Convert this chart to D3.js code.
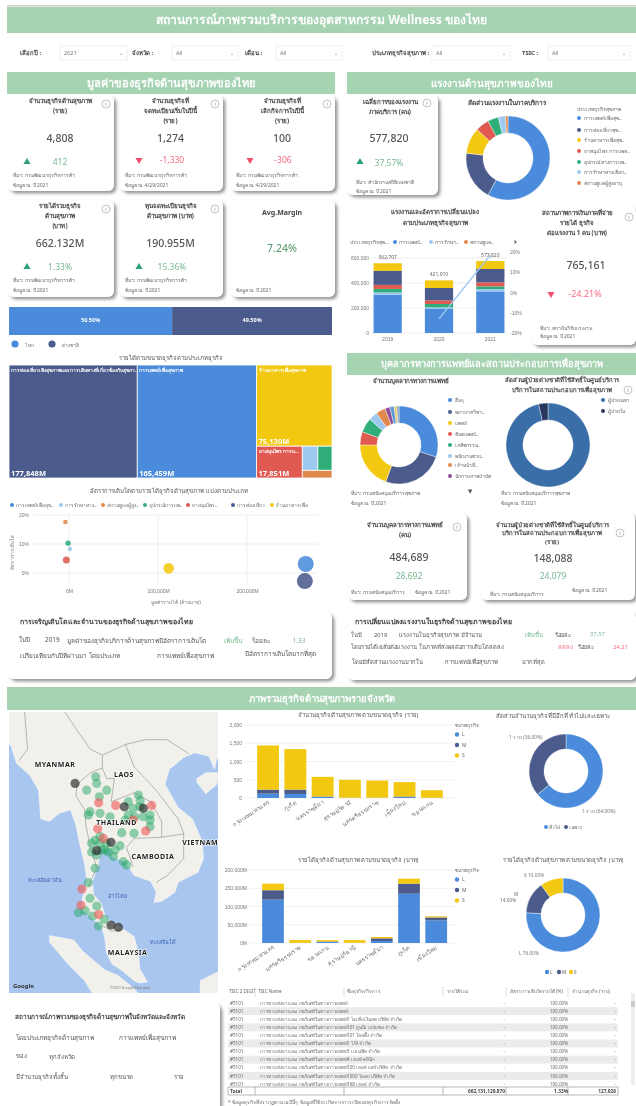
<!DOCTYPE html>
<html>
<head>
<meta charset="utf-8">
<script src="https://cdn.jsdelivr.net/npm/d3@7"></script>
<style>
html, body { margin: 0; padding: 0; background: #fff; }
svg { display: block; filter: blur(0.7px); font-family: "Noto Sans", "Open Sans", "DejaVu Sans", sans-serif; }
</style>
</head>
<body>
<svg id="chart" width="636" height="1106"></svg>
<script>
var w = 636, h = 1106;

// colours
var c_blue = '#4a8cdb', c_dark = '#4b5b8c', c_yellow = '#f2c811', c_red = '#e05a52', c_green = '#2fae7a',
    c_light = '#9dc9f0', c_orange = '#e08a50', c_purple = '#8e4b9c', c_head = '#a6d3b2', c_text = '#555';

// KPI cards, left block
var kpiTitles = [["จำนวนธุรกิจด้านสุขภาพ","(ราย)"],["จำนวนธุรกิจที่","จดทะเบียนเริ่มในปีนี้","(ราย)"],["จำนวนธุรกิจที่","เลิกกิจการในปีนี้","(ราย)"],
                 ["รายได้รวมธุรกิจ","ด้านสุขภาพ","(บาท)"],["ทุนจดทะเบียนธุรกิจ","ด้านสุขภาพ (บาท)"],["Avg.Margin"]];
var kpiValues = ["4,808","1,274","100","662.132M","190.955M","7.24%"];
var kpiDeltas = ["412","-1,330","-306","1.33%","15.36%",""];
var kpiSource = "ที่มา: กรมพัฒนาธุรกิจการค้า";
var kpiYears = ["ข้อมูล ณ ปี  2021","ข้อมูล ณ  4/29/2021","ข้อมูล ณ  4/29/2021","ข้อมูล ณ ปี  2021","ข้อมูล ณ ปี  2021","ข้อมูล ณ ปี  2021"];

// workforce donut and stacked bars
var bizShort = ["การแพทย์เพื่อสุข..","การท่องเที่ยวสุข..","ร้านอาหารเพื่อสุข..","ยาสมุนไพร การแพท..","อุปกรณ์ทางการแพ..","การรักษาทางเลือก..","สถานดูแลผู้สูงอายุ"];
var laborShare = [58, 19, 10, 5.3, 4.2, 2.7, 1];
var laborYears = ["2019","2020","2021"];
var laborBlue   = [306000, 192000, 333000];
var laborLight  = [18000, 13000, 19000];
var laborGreen  = [29000, 27000, 21000];
var laborRed    = [32000, 29000, 32000];
var laborDark   = [112000, 99000, 107000];
var laborYellow = [61000, 61000, 64000];
var laborTotals = ["562,707","421,910","577,820"];
var laborGrowth = [null, -13, 18.5];
var laborTicks = [0, 200000, 400000, 600000];
var growthTicks = [-20, -10, 0, 10, 20];

// nationality bar
var nationNames = ["ไทย","ต่างชาติ"];
var nationShare = [50.5, 49.5];

// treemap (ล้านบาท)
var treeRevenue = {dark: 177848, blue: 165459, yellow: 75130, red: 17851, light: 4600, green: 4200, orange: 2800};
var treeNames = {dark: "การท่องเที่ยวเชิงสุขภาพและการเดินทางที่เกี่ยวข้องกับสุขภา...", blue: "การแพทย์เพื่อสุขภาพ", yellow: "ร้านอาหารเพื่อสุขภาพ", red: "ยาสมุนไพร การแ..."};

// bubble chart
var bubbleNames = ["การแพทย์เพื่อสุข..","การรักษาทาง..","สถานดูแลผู้สูง..","อุปกรณ์การแพ..","ยาสมุนไพร..","การท่องเที่ยว","ร้านอาหารเพื่อ"];
var bubbleColors = [c_blue, c_light, c_orange, c_green, c_red, c_dark, c_yellow];
var bubbleRevenue = [266000, 1000, -4000, -1000, -3000, 265000, 112000];
var bubbleGrowth = [3.1, 8.3, 17.6, 10.3, 4.5, -2.8, 1.6];
var bubbleSize = [64, 5.3, 5.3, 7.3, 12.3, 64, 28];
var bubbleXTicks = [0, 100000, 200000];
var bubbleYTicks = [0, 10, 20];

// medical staff donuts
var staffNames = ["อื่นๆ","พยาบาลวิชา..","แพทย์","ทันตแพทย์..","เภสัชกรรม..","พนักงานช่วย..","เจ้าหน้าที่..","นักกายภาพบำบัด"];
var staffShare = [30, 25.5, 19.5, 5.5, 6, 3.7, 4, 2, 1.8, 1.1, 0.9];
var patientNames = ["ผู้ป่วยนอก","ผู้ป่วยใน"];
var patientShare = [96.4, 3.6];

// province charts
var sizeNames = ["L","M","S"];
var countProvinces = ["กรุงเทพมหานคร","ภูเก็ต","นครราชสีมา","สุราษฎร์ธานี","นครศรีธรรมราช","เชียงใหม่","ขอนแก่น"];
var countL = [120, 110, 30, 3, 3, 25, 3];
var countM = [110, 120, 10, 5, 5, 15, 3];
var countS = [1210, 1110, 540, 490, 470, 395, 207];
var countTicks = [0, 500, 1000, 1500, 2000];
var incomeProvinces = ["กรุงเทพมหานคร","นครศรีธรรมราช","ขอนแก่น","สุราษฎร์ธานี","นครราชสีมา","ภูเก็ต","เชียงใหม่"];
var incomeL = [119000, 300, 3000, 300, 5500, 135000, 62000];
var incomeM = [25600, 200, 1000, 200, 7300, 27500, 8000];
var incomeS = [18000, 7500, 4000, 7500, 3600, 13700, 3000];
var incomeTicks = [0, 50000, 100000, 150000, 200000];
var typeShare = [64, 36];
var typeNames = ["ทั่วไป","เฉพาะ"];
var typeLabels = ["1 ราย (64.00%)","1 ราย (36.00%)"];
var sizeShare = [76, 14, 10];
var sizeLabels = ["L 76.00%","M\n14.00%","S 10.00%"];

// map bubbles, lon / lat
var mapGreenLon = [99.5,98.68,99.59,100.5,99.83,98.98,99.89,100.8,98.83,102.47,103.38,102.47,103.53,104.44,104.44,101.86,102.98,101.71,99.89,99.13,100.35,101.1,102.01,102.32,99.44,98.83,98.98,99.59,98.53,97.92,99.22,100.28,99.74,
                   99.44,99.89,100.5,100.04,100.65,101.26,99.59,99.13,103.03,103.8,104.44,102.92,102.17,103.53];
var mapGreenLat = [19.66,18.51,19.09,18.51,17.94,16.64,16.5,16.2,16.35,17.51,18.08,16.35,17.07,16.35,15.33,14.8,14.75,13.66,13.87,13.87,13.27,12.69,12.24,11.95,11.65,10.37,8.97,8.27,7.85,7.67,7.37,7.07,6.47,
                   14.13,14.47,13.87,13.27,13.1,13.27,12.83,13.1,16.2,16.2,15.9,16.93,15.9,17.6];
var mapRedLon = [99.77,101.32,104.59,99.68,104.04,102.92,100.19,98.25,98.16,99.77];
var mapRedLat = [17.42,17.19,17.19,15.15,14.95,15.91,14.3,9.8,8.34,7.5];
var mapDarkLon = [97.62,102.1,103.83,100.89,99.59,100.89,101.56];
var mapDarkLat = [19.09,17.07,16.93,13.95,13.22,6.56,6.35];

// rough coast and border lines, lon / lat
var landMain = [[89,27],[89,22],[91,23],[91.8,22.3],[92.3,20.8],[93.5,19.8],[94.3,18.5],[94.5,16],[95.3,15.8],[96.2,16.5],[97.2,16.8],[97.7,15.5],[98,14],[98.5,12],[98.7,10.5],[98.3,9],[98.3,8],[99,7.3],[100,6.5],[100.3,5.5],[100.5,4],[101,3],[101.8,2.5],[103,1.5],[103.5,1.3],[104.2,1.4],[103.5,2.6],[103.4,4],[103,5.5],[102,6.2],[101,6.8],[100.4,7.3],[100,8.5],[99.3,9.3],[99.2,10.5],[99.7,11.8],[100,13.4],[100.8,13.4],[101,12.7],[102.2,12.2],[103,11],[104.5,10.5],[105,9.5],[104.8,8.6],[105.5,8.7],[106.7,9.5],[107,10.4],[108.8,11.3],[109.3,12.5],[109.2,14],[108.3,16],[107,17],[105.8,19],[106.2,20.3],[107.5,21.3],[108.5,21.7],[109.8,21.4],[110.3,20.3],[110.5,21.2],[112,21.8],[114,22.2],[114,27]];
var landSumatra = [[95.3,5.6],[97.5,5.2],[98.3,4.2],[100.3,2.5],[101.5,2],[103,0.8],[104.5,-1],[100,-1],[98.5,1.5],[97,3],[95.3,5]];
var landHainan = [[108.7,19.2],[109.5,18.2],[110.5,19],[110.7,20],[109.5,20],[108.7,19.5]];
var landBorneo = [[109,1.5],[110,2],[112,3],[114,3.8],[114,-1],[109,-1]];
var borderLines = [
  [[100.1,20.4],[99,20],[97.8,19],[97.7,18],[98.5,16.8],[98.6,15.5],[99,13.5],[99.6,11.7],[98.8,10]],
  [[100.1,20.4],[100.5,19.5],[101.2,19.5],[100.9,17.5],[102,17.9],[103,18.3],[104.5,17.5],[105.5,15.8],[105.5,14.4]],
  [[105.5,14.4],[103,14.3],[102.3,13.5],[102.9,11.8]],
  [[105.5,14.4],[107.5,14.7],[107.5,12.5],[106,11],[105,10.4]],
  [[107.5,14.7],[107,16],[105,18.5],[104,19.5],[103,20.5],[102.2,22.4]],
  [[96,26],[97.5,24],[99,22],[100.1,21.5],[102.2,22.4],[104,22.8],[106,22.8],[108,21.6]],
  [[100.1,6.5],[101,6],[102,6.2]],
  [[93,25.5],[93.3,22],[92.5,21]],
  [[100.1,20.4],[100.1,21.5]]
];
var mapCountries = ["MYANMAR","LAOS","THAILAND","VIETNAM","CAMBODIA","MALAYSIA"];
var mapCountryLon = [95.8,102.07,101.4,109,104.7,102.4];
var mapCountryLat = [20.7,19.85,15.7,13.9,12.7,4.1];
var mapSeas = ["ทะเลอันดามัน","อ่าวไทย","ทะเลจีนใต้"];
var mapSeaLon = [94.9,101.5,105.6];
var mapSeaLat = [10.6,9.2,5];

// table
var tableHeaders = ["TSIC 2 DIGIT","TSIC Name","ชื่อธุรกิจ/กิจการ","รายได้รวม","อัตราการเติบโตรายได้ (%)","จำนวนธุรกิจ (ราย)"];
var tableCode = "#5101";
var tableTsic = "การขายส่งยาและเวชภัณฑ์ในทางการแพทย์";
var tableBiz = ["","-","1 ไอเดียเงินสด บริษัท จำกัด","101 ยูนนิเวอร์แซล จำกัด","101 โฮลดิ้ง จำกัด","1 1/9 จำกัด","1 เบเนฟิท จำกัด","4 เฮลท์ คลินิก","100 เฮลธ์ แคร์ บริษัท จำกัด","1000 โอสถ บริษัท จำกัด","168 เฮลธ์ จำกัด"];
var tableTotals = ["Total","","","662,131,129,870","1.33%","127,926"];

var svg = d3.select("#chart");
var defs = svg.append("defs");
var fs = defs.append("filter").attr("id", "shadow").attr("x", "-10%").attr("y", "-10%").attr("width", "125%").attr("height", "125%");
fs.append("feDropShadow").attr("dx", 2.5).attr("dy", 2.5).attr("stdDeviation", 1.8).attr("flood-color", "#555").attr("flood-opacity", 0.6);
defs.append("filter").attr("id", "soft").append("feGaussianBlur").attr("stdDeviation", 0.6);

function txt(x, y, s, size, color, anchor, weight, parent) {
    return (parent || svg).append("text").attr("x", x).attr("y", y).attr("dy", "0.35em")
        .attr("font-size", size).attr("fill", color || c_text)
        .attr("text-anchor", anchor || "start").attr("font-weight", weight || 400).text(s);
}
function band(x, y, wd, ht, label, size) {
    svg.append("rect").attr("x", x).attr("y", y).attr("width", wd).attr("height", ht).attr("fill", c_head);
    txt(x + wd / 2, y + ht / 2, label, size, "#fff", "middle", 700);
}
function card(x, y, wd, ht) {
    svg.append("rect").attr("x", x).attr("y", y).attr("width", wd).attr("height", ht).attr("rx", 6)
       .attr("fill", "#fff").attr("filter", "url(#shadow)");
}
function info(x, y) {
    svg.append("circle").attr("cx", x).attr("cy", y).attr("r", 4).attr("fill", "none").attr("stroke", "#aaa").attr("stroke-width", 0.7);
    txt(x, y, "i", 5.5, "#888", "middle", 400);
}
function tri(x, y, up) {
    svg.append("path").attr("transform", "translate(" + x + "," + y + ")" + (up ? "" : " rotate(180)"))
       .attr("d", d3.symbol().type(d3.symbolTriangle).size(22)).attr("fill", up ? "#2f9e7a" : "#f0506e");
}
function dot(x, y, r, color) {
    svg.append("circle").attr("cx", x).attr("cy", y).attr("r", r).attr("fill", color);
}
function donut(cx, cy, ro, ri, values, colors) {
    var pie = d3.pie().sort(null);
    var arc = d3.arc().outerRadius(ro).innerRadius(ri);
    svg.append("g").attr("transform", "translate(" + cx + "," + cy + ")")
       .selectAll("path").data(pie(values)).enter().append("path")
       .attr("d", arc).attr("fill", function(d, i) { return colors[i]; })
       .attr("stroke", "#fff").attr("stroke-width", 0.4);
}
function cleanAxis(g, size) {
    g.select(".domain").remove();
    g.selectAll(".tick line").remove();
    g.selectAll("text").attr("font-size", size).attr("fill", "#777").attr("font-family", null);
}

// title and filters
svg.append("rect").attr("x", 7).attr("y", 5).attr("width", 629).attr("height", 1.5).attr("fill", "#ccc");
band(7, 7, 629, 26, "สถานการณ์ภาพรวมบริการของอุตสาหกรรม Wellness ของไทย", 12.2);

var filterLabels = ["เลือกปี :","จังหวัด :","เดือน :","ประเภทธุรกิจสุขภาพ :","TSIC :"];
var filterValues = ["2021","All","All","All","All"];
var filterLabelX = [20, 132, 245, 372, 522];
var filterBoxX = [60, 172, 276, 432, 548];
var filterBoxW = [67, 66, 66, 78, 82];
filterLabels.forEach(function(d, i) {
    txt(filterLabelX[i], 53, d, 6, "#444", "start", 700);
    svg.append("rect").attr("x", filterBoxX[i]).attr("y", 46).attr("width", filterBoxW[i]).attr("height", 14).attr("fill", "#fff").attr("stroke", "#eee");
    txt(filterBoxX[i] + 4, 53, filterValues[i], 5.5, "#777");
    txt(filterBoxX[i] + filterBoxW[i] - 6, 53, "⌄", 5.5, "#999", "middle");
});

// left KPI block
band(7, 72, 328, 22, "มูลค่าของธุรกิจด้านสุขภาพของไทย", 11);
var kpiX = [8, 120, 231, 8, 120, 231], kpiY = [95, 95, 95, 200, 200, 200], kpiW = [106, 103, 104, 106, 103, 104];
kpiValues.forEach(function(d, i) {
    var x = kpiX[i], y = kpiY[i], wd = kpiW[i], cx = x + wd / 2 - 1;
    card(x, y, wd, i < 3 ? 96 : 97);
    if (i < 5) info(x + wd - 8, y + 9);
    var lines = kpiTitles[i];
    if (i == 5) {
        txt(cx, y + 13, lines[0], 7, "#444", "middle", 700);
        txt(cx, y + 48, d, 10.5, "#5f9f78", "middle", 500);
    } else {
        lines.forEach(function(s, k) { txt(cx, y + 6 + k * 9.8, s, 6.2, "#444", "middle", 700); });
        txt(cx, y + 43.5, d, 10.5, "#555", "middle", 500);
        var up = kpiDeltas[i].charAt(0) != "-";
        tri(x + 19, y + (up ? 67 : 65), up);
        txt(x + 52, y + (up ? 67 : 65), kpiDeltas[i], 8.5, up ? "#7ab892" : "#f46a80", "middle");
        txt(x + 5, y + 80, kpiSource, 5, "#666");
    }
    txt(x + 5, y + 90.5, kpiYears[i], 5, "#666");
});

// labour block
band(347, 72, 289, 22, "แรงงานด้านสุขภาพของไทย", 10);
card(347, 95, 91, 100);
info(427, 103);
txt(390, 102, "เฉลี่ยการของแรงงาน", 6.2, "#444", "middle", 700);
txt(390, 112, "ภาคบริการ (คน)", 6.2, "#444", "middle", 700);
txt(389, 138, "577,820", 10.5, "#555", "middle", 500);
tri(360, 162, true);
txt(389, 163, "37.57%", 8.5, "#7ab892", "middle");
txt(356, 182, "ที่มา: สำนักงานสถิติแห่งชาติ", 5, "#666");
txt(356, 191, "ข้อมูล ณ ปี   2021", 5, "#666");

var typeColors = [c_blue, c_dark, c_yellow, c_red, c_green, c_light, c_orange];
txt(507, 103, "สัดส่วนแรงงานในภาคบริการ", 6.5, "#444", "middle", 700);
donut(508, 158, 42, 25, laborShare, typeColors);
txt(577, 109, "ประเภทธุรกิจสุขภาพ", 5, "#666");
var donutLegendY = [118, 130, 140, 151, 162, 172, 183];
bizShort.forEach(function(d, i) {
    dot(579, donutLegendY[i], 2, typeColors[i]);
    txt(584, donutLegendY[i], d, 5, "#666");
});

txt(435, 212, "แรงงานและอัตราการเปลี่ยนแปลง", 6.2, "#444", "middle", 700);
txt(435, 223, "ตามประเภทธุรกิจสุขภาพ", 6.2, "#444", "middle", 700);
txt(350, 242, "ประเภทธุรกิจสุข...", 5, "#666");
var comboLegend = [[395, c_blue, "การแพทย์.."], [431, c_light, "การรักษา.."], [466, c_orange, "สถานดูแล.."]];
comboLegend.forEach(function(d) { dot(d[0], 242, 2, d[1]); txt(d[0] + 4, 242, d[2], 5, "#666"); });
txt(515, 242, "⏵", 6, "#555", "middle");

var yLabor = d3.scaleLinear().domain([0, 600000]).range([333, 258]);
var yGrowth = d3.scaleLinear().domain([-20, 20]).range([333, 252]);
var xLabor = d3.scaleBand().domain(laborYears).range([362, 516]).paddingInner(0.45).paddingOuter(0.225);
svg.append("g").selectAll("line").data(laborTicks).enter().append("line")
   .attr("x1", 370).attr("x2", 507).attr("y1", yLabor).attr("y2", yLabor).attr("stroke", "#eee");
var laborRows = laborYears.map(function(y, i) {
    return {year: y, blue: laborBlue[i], light: laborLight[i], green: laborGreen[i], red: laborRed[i], dark: laborDark[i], yellow: laborYellow[i]};
});
var laborKeys = ["blue", "light", "green", "red", "dark", "yellow"];
var laborColors = {blue: c_blue, light: c_light, green: c_green, red: c_red, dark: c_dark, yellow: c_yellow};
svg.append("g").selectAll("g").data(d3.stack().keys(laborKeys)(laborRows)).enter().append("g")
   .attr("fill", function(d) { return laborColors[d.key]; })
   .selectAll("rect").data(function(d) { return d; }).enter().append("rect")
   .attr("x", function(d) { return xLabor(d.data.year); }).attr("width", xLabor.bandwidth())
   .attr("y", function(d) { return yLabor(d[1]); }).attr("height", function(d) { return yLabor(d[0]) - yLabor(d[1]); });
var growthLine = d3.line().defined(function(d) { return d != null; })
    .x(function(d, i) { return xLabor(laborYears[i]) + xLabor.bandwidth() / 2; }).y(function(d) { return yGrowth(d); });
svg.append("path").attr("d", growthLine(laborGrowth)).attr("fill", "none").attr("stroke", c_light).attr("stroke-width", 1.4);
laborTotals.forEach(function(d, i) {
    var total = laborBlue[i] + laborLight[i] + laborGreen[i] + laborRed[i] + laborDark[i] + laborYellow[i];
    txt(xLabor(laborYears[i]) + xLabor.bandwidth() / 2, yLabor(total) - 6, d, 5, "#666", "middle");
});
svg.append("g").attr("transform", "translate(369,0)")
   .call(d3.axisLeft(yLabor).tickValues(laborTicks).tickFormat(d3.format(",")).tickSize(0).tickPadding(0)).call(cleanAxis, 5);
svg.append("g").attr("transform", "translate(508,0)")
   .call(d3.axisRight(yGrowth).tickValues(growthTicks).tickFormat(function(d) { return d + "%"; }).tickSize(0).tickPadding(2)).call(cleanAxis, 5);
svg.append("g").attr("transform", "translate(0,335)")
   .call(d3.axisBottom(xLabor).tickSize(0).tickPadding(2)).call(cleanAxis, 5);

card(532, 207, 104, 138);
info(629, 217);
txt(577, 213, "สถานภาพการเงินภาคที่จ่าย", 6.2, "#444", "middle", 700);
txt(577, 223, "รายได้ ธุรกิจ", 6.2, "#444", "middle", 700);
txt(577, 233, "ต่อแรงงาน 1 คน (บาท)", 6.2, "#444", "middle", 700);
txt(586, 265, "765,161", 10.5, "#555", "middle", 500);
tri(551, 294, false);
txt(585, 294, "-24.21%", 9, "#f46a80", "middle");
txt(540, 328, "ที่มา: สถาบันวิจัยแรงงาน", 5, "#666");
txt(540, 336, "ข้อมูล ณ ปี    2021", 5, "#666");

// nationality stacked bar
var xNation = d3.scaleLinear().domain([0, 100]).range([9, 332]);
var nationColors = [c_blue, c_dark];
var nationStart = [0, nationShare[0]];
nationShare.forEach(function(d, i) {
    svg.append("rect").attr("x", xNation(nationStart[i])).attr("y", 307).attr("height", 28)
       .attr("width", xNation(nationStart[i] + d) - xNation(nationStart[i])).attr("fill", nationColors[i]);
    txt(xNation(nationStart[i] + d / 2), 320, d.toFixed(2) + "%", 5.5, "#fff", "middle", 700);
});
var nationLegendX = [15, 52];
nationNames.forEach(function(d, i) {
    svg.append("circle").attr("cx", nationLegendX[i]).attr("cy", 344).attr("r", 3.6).attr("fill", nationColors[i]);
    txt(nationLegendX[i] + 10, 345, d, 5, "#777");
});

// treemap
txt(171, 358, "รายได้ตามขนาดธุรกิจตามประเภทธุรกิจ", 6, "#555", "middle");
var treeData = {children: [
    {key: "dark", value: treeRevenue.dark},
    {key: "blue", value: treeRevenue.blue},
    {children: [
        {key: "yellow", value: treeRevenue.yellow},
        {children: [
            {key: "red", value: treeRevenue.red},
            {children: [
                {children: [{key: "light", value: treeRevenue.light}, {key: "green", value: treeRevenue.green}]},
                {key: "orange", value: treeRevenue.orange}
            ]}
        ]}
    ]}
]};
var treeRoot = d3.hierarchy(treeData).sum(function(d) { return d.value || 0; });
d3.treemap().tile(d3.treemapSliceDice).size([323, 113])(treeRoot);
var treeColors = {dark: c_dark, blue: c_blue, yellow: c_yellow, red: c_red, light: c_light, green: c_green, orange: c_orange};
var treeG = svg.append("g").attr("transform", "translate(9,365)");
treeRoot.leaves().forEach(function(d) {
    var k = d.data.key;
    treeG.append("rect").attr("x", d.x0).attr("y", d.y0).attr("width", d.x1 - d.x0).attr("height", d.y1 - d.y0)
         .attr("fill", treeColors[k]).attr("stroke", "#fff").attr("stroke-width", 0.8);
    if (treeNames[k]) {
        txt(d.x0 + 2, d.y0 + 5, treeNames[k], 4.8, "#fff", "start", 600, treeG);
        txt(d.x0 + 2, d.y1 - 5, d3.format(",")(treeRevenue[k]) + "M", 7.5, "#fff", "start", 700, treeG);
    }
});

// bubble chart
txt(169, 491, "อัตราการเติบโตตามรายได้ธุรกิจด้านสุขภาพ แบ่งตามประเภท", 6, "#555", "middle");
var bubbleLegendX = [12, 61, 103, 145, 188, 233, 272];
bubbleNames.forEach(function(d, i) {
    dot(bubbleLegendX[i], 505, 2, bubbleColors[i]);
    txt(bubbleLegendX[i] + 4, 505, d, 4.8, "#666");
});
var xBubble = d3.scaleLinear().domain([0, 200000]).range([69, 247]);
var yBubble = d3.scaleLinear().domain([0, 20]).range([573, 515]);
var rBubble = d3.scaleSqrt().domain([0, 64]).range([0, 8]);
svg.append("g").selectAll("line").data(bubbleYTicks).enter().append("line")
   .attr("x1", 33).attr("x2", 318).attr("y1", yBubble).attr("y2", yBubble).attr("stroke", "#eee");
svg.append("g").selectAll("line").data(bubbleXTicks).enter().append("line")
   .attr("y1", 515).attr("y2", 585).attr("x1", xBubble).attr("x2", xBubble).attr("stroke", "#eee");
svg.append("g").attr("transform", "translate(29,0)")
   .call(d3.axisLeft(yBubble).tickValues(bubbleYTicks).tickFormat(function(d) { return d + "%"; }).tickSize(0).tickPadding(0)).call(cleanAxis, 5);
svg.append("g").attr("transform", "translate(0,588)")
   .call(d3.axisBottom(xBubble).tickValues(bubbleXTicks).tickFormat(function(d) { return d3.format(",")(d) + "M"; }).tickSize(0).tickPadding(1)).call(cleanAxis, 5);
txt(176, 602, "มูลค่ารายได้ (ล้านบาท)", 5, "#777", "middle");
txt(0, 0, "อัตราการเติบโต", 5, "#777", "middle").attr("transform", "translate(12,552) rotate(-90)");
svg.append("g").selectAll("circle").data(bubbleRevenue).enter().append("circle")
   .attr("cx", function(d) { return xBubble(d); })
   .attr("cy", function(d, i) { return yBubble(bubbleGrowth[i]); })
   .attr("r", function(d, i) { return rBubble(bubbleSize[i]); })
   .attr("fill", function(d, i) { return bubbleColors[i]; }).attr("fill-opacity", 0.88);

// narrative, left
card(8, 612, 324, 67);
txt(20, 622, "การเจริญเติบโตและจำนวนของธุรกิจด้านสุขภาพของไทย", 7, "#444", "start", 700);
txt(19, 640, "ในปี", 6.4, "#555");
txt(45, 640, "2019", 6.4, "#555");
txt(67, 641, "มูลค่าของธุรกิจบริการด้านสุขภาพมีอัตราการเติบโต", 6.4, "#555");
txt(224, 641, "เพิ่มขึ้น", 6.4, "#7ab892");
txt(252, 641, "ร้อยละ", 6.4, "#555");
txt(299, 641, "1.33", 6.4, "#7ab892", "middle");
txt(20, 656, "เปรียบเทียบกับปีที่ผ่านมา โดยประเภท", 6.4, "#555");
txt(157, 656, "การแพทย์เพื่อสุขภาพ", 6.4, "#555");
txt(245, 654, "มีอัตราการเติบโตมากที่สุด", 6.4, "#555");

// medical staff block
band(347, 353, 289, 22, "บุคลากรทางการแพทย์และสถานประกอบการเพื่อสุขภาพ", 9.2);
txt(411, 381, "จำนวนบุคลากรทางการแพทย์", 6.2, "#444", "middle", 700);
var staffColors = [c_blue, c_dark, c_yellow, c_red, c_green, c_light, c_orange, c_purple, "#5b9bd5", "#e8c86a", "#8aa4b8"];
donut(399, 445, 39, 22, staffShare, staffColors);
var staffLegendY = [400, 412, 423, 434, 445, 456, 465, 476];
staffNames.forEach(function(d, i) {
    dot(450, staffLegendY[i], 2, staffColors[i]);
    txt(455, staffLegendY[i], d, 5, "#666");
});
txt(470, 491, "▼", 5.5, "#555", "middle");
txt(351, 493, "ที่มา: กรมสนับสนุนบริการสุขภาพ", 5, "#666");
txt(351, 503, "ข้อมูล ณ ปี   2021", 5, "#666");

txt(562, 380, "สัดส่วนผู้ป่วยต่างชาติที่ใช้สิทธิ์ในศูนย์บริการ", 6, "#444", "middle", 700);
txt(562, 390, "บริการในสถานประกอบการเพื่อสุขภาพ", 6, "#444", "middle", 700);
info(628, 390);
var patientColors = ["#3a6ea8", "#27375e"];
donut(548, 445, 42, 25, patientShare, patientColors);
patientNames.forEach(function(d, i) {
    dot(603, 400 + i * 11, 2, patientColors[i]);
    txt(608, 400 + i * 11, d, 5, "#666");
});
txt(501, 493, "ที่มา: กรมสนับสนุนบริการสุขภาพ", 5, "#666");
txt(501, 503, "ข้อมูล ณ ปี   2021", 5, "#666");

card(348, 513, 119, 87);
info(457, 527);
txt(405, 525, "จำนวนบุคลากรทางการแพทย์", 6.2, "#444", "middle", 700);
txt(405, 535, "(คน)", 6.2, "#444", "middle", 700);
txt(409, 557, "484,689", 10.5, "#555", "middle", 500);
txt(409, 576, "28,692", 8.5, "#7ab892", "middle");
txt(351, 592, "ที่มา: กรมสนับสนุนบริการ", 5, "#666");
txt(415, 592, "ข้อมูล ณ ปี    2021", 5, "#666");

card(481, 513, 154, 87);
info(620, 533);
txt(552, 525, "จำนวนผู้ป่วยต่างชาติที่ใช้สิทธิ์ในศูนย์บริการ", 6, "#444", "middle", 700);
txt(552, 533, "บริการในสถานประกอบการเพื่อสุขภาพ", 6, "#444", "middle", 700);
txt(552, 542, "(ราย)", 6, "#444", "middle", 700);
txt(553, 558, "148,088", 10.5, "#555", "middle", 500);
txt(553, 576, "24,079", 8.5, "#7ab892", "middle");
txt(490, 594, "ที่มา: กรมสนับสนุนบริการ", 5, "#666");
txt(572, 590, "ข้อมูล ณ ปี    2021", 5, "#666");

card(348, 612, 288, 68);
txt(355, 622, "การเปลี่ยนแปลงแรงงานในธุรกิจด้านสุขภาพของไทย", 7, "#444", "start", 700);
txt(351, 635, "ในปี", 5.8, "#555");
txt(374, 635, "2019", 5.8, "#555");
txt(399, 635, "แรงงานในธุรกิจสุขภาพ มีจำนวน", 5.8, "#555");
txt(525, 635, "เพิ่มขึ้น", 5.8, "#7ab892");
txt(555, 635, "ร้อยละ", 5.8, "#555");
txt(590, 634, "37.57", 5.8, "#7ab892");
txt(351, 647, "โดยรายได้เฉลี่ยต่อแรงงาน ในภาคที่ส่งผลต่อการเติบโตลดลง", 5.8, "#555");
txt(558, 647, "ลดลง", 5.8, "#f46a80");
txt(578, 647, "ร้อยละ", 5.8, "#555");
txt(613, 647, "24.21", 5.8, "#f46a80");
txt(352, 662, "โดยมีสัดส่วนแรงงานมากใน", 5.8, "#555");
txt(445, 662, "การแพทย์เพื่อสุขภาพ", 5.8, "#555");
txt(522, 662, "มากที่สุด", 5.8, "#555");

// province block
band(7, 687, 629, 23, "ภาพรวมธุรกิจด้านสุขภาพรายจังหวัด", 9.5);

// map
defs.append("clipPath").attr("id", "mapClip").append("rect").attr("x", 9).attr("y", 712).attr("width", 209).attr("height", 281);
var mapOuter = svg.append("g").attr("clip-path", "url(#mapClip)");
var mapG = mapOuter.append("g").attr("filter", "url(#soft)");
mapG.append("rect").attr("x", 5).attr("y", 708).attr("width", 217).attr("height", 289).attr("fill", "#a9c6ee");
var proj = d3.geoMercator().center([103.8, 1.3]).scale(630).translate([143, 983]);
var geoLine = d3.line().x(function(d) { return proj(d)[0]; }).y(function(d) { return proj(d)[1]; });
[landMain, landSumatra, landHainan, landBorneo].forEach(function(d) {
    mapG.append("path").attr("d", geoLine(d) + "Z").attr("fill", "#f2f0ea").attr("stroke", "#fff").attr("stroke-width", 0.5);
});
borderLines.forEach(function(d) {
    mapG.append("path").attr("d", geoLine(d)).attr("fill", "none").attr("stroke", "#a5a5a5").attr("stroke-width", 0.8);
});
function mapDots(lons, lats, color, opacity) {
    mapG.append("g").selectAll("circle").data(lons).enter().append("circle")
        .attr("cx", function(d, i) { return proj([d, lats[i]])[0]; })
        .attr("cy", function(d, i) { return proj([d, lats[i]])[1]; })
        .attr("r", 4.6).attr("fill", color).attr("fill-opacity", opacity);
}
mapDots(mapGreenLon, mapGreenLat, "#27a866", 0.5);
mapDots(mapRedLon, mapRedLat, "#ef5a55", 0.62);
mapDots(mapDarkLon, mapDarkLat, "#222", 0.65);
mapCountries.forEach(function(d, i) {
    var p = proj([mapCountryLon[i], mapCountryLat[i]]);
    txt(p[0], p[1], d, 7, "#222", "middle", 700, mapOuter).attr("stroke", "#fff").attr("stroke-width", 1.2)
        .attr("paint-order", "stroke").attr("letter-spacing", 0.5);
});
mapSeas.forEach(function(d, i) {
    var p = proj([mapSeaLon[i], mapSeaLat[i]]);
    txt(p[0], p[1], d, 5.5, "#3a62b8", "middle", 400, mapOuter);
});
txt(13, 986, "Google", 6, "#333", "start", 700, mapOuter);
txt(110, 988, "©2021 Google  Map data", 3.5, "#777", "start", 400, mapOuter);

// province bars
function stackedBars(title, titleX, titleY, names, l, m, s, ticks, yScale, xRange, gridX, fmt, baseY) {
    txt(titleX, titleY, title, 6, "#555", "middle");
    var x = d3.scaleBand().domain(names).range(xRange).paddingInner(0.2).paddingOuter(0.1);
    svg.append("g").selectAll("line").data(ticks).enter().append("line")
       .attr("x1", gridX[0]).attr("x2", gridX[1]).attr("y1", yScale).attr("y2", yScale).attr("stroke", "#f0f0f0");
    var rows = names.map(function(n, i) { return {name: n, L: l[i], M: m[i], S: s[i]}; });
    var sizeColors = {L: c_blue, M: c_dark, S: c_yellow};
    svg.append("g").selectAll("g").data(d3.stack().keys(sizeNames)(rows)).enter().append("g")
       .attr("fill", function(d) { return sizeColors[d.key]; })
       .selectAll("rect").data(function(d) { return d; }).enter().append("rect")
       .attr("x", function(d) { return x(d.data.name); }).attr("width", x.bandwidth())
       .attr("y", function(d) { return yScale(d[1]); }).attr("height", function(d) { return yScale(d[0]) - yScale(d[1]); });
    svg.append("g").attr("transform", "translate(" + (gridX[0] - 3) + ",0)")
       .call(d3.axisLeft(yScale).tickValues(ticks).tickFormat(fmt).tickSize(0).tickPadding(0)).call(cleanAxis, 5);
    var ax = svg.append("g").attr("transform", "translate(0," + baseY + ")").call(d3.axisBottom(x).tickSize(0).tickPadding(3)).call(cleanAxis, 6);
    ax.selectAll("text").attr("text-anchor", "end").attr("transform", "rotate(-33)").attr("dx", "-0.2em").attr("dy", "0.3em");
}
var yCount = d3.scaleLinear().domain([0, 2000]).range([798, 725]);
stackedBars("จำนวนธุรกิจด้านสุขภาพ ตามขนาดธุรกิจ (ราย)", 358, 715, countProvinces, countL, countM, countS, countTicks, yCount, [254.4, 445.5], [245, 455], d3.format(","), 799);
var yIncome = d3.scaleLinear().domain([0, 200000]).range([943, 870]);
stackedBars("รายได้ธุรกิจด้านสุขภาพ ตามขนาดธุรกิจ (บาท)", 358, 860, incomeProvinces, incomeL, incomeM, incomeS, incomeTicks, yIncome, [259.4, 449.8], [250, 457], function(d) { return d3.format(",")(d) + "M"; }, 944);
var sizeColorList = [c_blue, c_dark, c_yellow];
[725, 870].forEach(function(y0) {
    txt(455, y0, "ขนาดธุรกิจ", 5, "#666");
    sizeNames.forEach(function(d, i) {
        dot(457, y0 + 9.5 + i * 10.5, 2.2, sizeColorList[i]);
        txt(462, y0 + 9.5 + i * 10.5, d, 5, "#666");
    });
});

// donuts on the right
txt(553, 716, "สัดส่วนจำนวนธุรกิจที่มีอีกที่ ทั่วไปและเฉพาะ", 6, "#555", "middle");
donut(566, 771, 37, 22, typeShare, [c_blue, c_dark]);
txt(509, 737, typeLabels[1], 4.8, "#777");
txt(582, 811, typeLabels[0], 4.8, "#777");
dot(546, 827, 2, c_blue); txt(549, 827, typeNames[0], 4.8, "#666");
dot(566, 827, 2, c_dark); txt(569, 827, typeNames[1], 4.8, "#666");

txt(563, 860, "รายได้ธุรกิจด้านสุขภาพ ตามขนาดธุรกิจ (บาท)", 6, "#555", "middle");
donut(563, 915, 37, 22, sizeShare, [c_blue, c_dark, c_yellow]);
txt(524, 875, sizeLabels[2], 4.8, "#777");
txt(514, 894, sizeLabels[1].split("\n")[0], 4.8, "#777");
txt(500, 900, sizeLabels[1].split("\n")[1], 4.8, "#777");
txt(519, 953, sizeLabels[0], 4.8, "#777");
sizeNames.forEach(function(d, i) {
    dot(547 + i * 12, 972, 2.2, sizeColorList[i]);
    txt(550 + i * 12, 972, d, 4.8, "#666");
});

// narrative, province
card(8, 1003, 212, 110);
txt(15, 1017, "สถานการณ์ภาพรวมของธุรกิจด้านสุขภาพในจังหวัดและจังหวัด", 6.4, "#444", "start", 700);
txt(16, 1038, "โดยประเภทธุรกิจด้านสุขภาพ", 6.4, "#555");
txt(119, 1038, "การแพทย์เพื่อสุขภาพ", 6.4, "#555");
txt(16, 1056, "ของ", 6, "#555");
txt(49, 1057, "ทุกจังหวัด", 6, "#555");
txt(16, 1077, "มีจำนวนธุรกิจทั้งสิ้น", 6, "#555");
txt(110, 1077, "ทุกขนาด", 6, "#555");
txt(174, 1077, "ราย", 6, "#555");

// table
var colX = [228, 257, 346, 445, 508, 570, 618];
var rowY = d3.range(0, tableBiz.length).map(function(i) { return 1003 + i * 8.1; });
tableHeaders.forEach(function(d, i) { txt(colX[i] + (i > 2 ? 2 : 1), 991, d, 4.6, "#666"); });
colX.slice(1, 6).forEach(function(x) {
    svg.append("line").attr("x1", x - 2).attr("x2", x - 2).attr("y1", 987).attr("y2", 997).attr("stroke", "#ddd");
});
tableBiz.forEach(function(d, i) {
    if (i % 2 == 1) svg.append("rect").attr("x", 228).attr("y", rowY[i] - 4).attr("width", 390).attr("height", 8).attr("fill", "#ebebeb");
    if (rowY[i] > 1084) return;
    txt(230, rowY[i], tableCode, 4.6, "#666");
    txt(260, rowY[i], tableTsic, 4.6, "#666");
    txt(347, rowY[i], d, 4.6, "#666");
    txt(505, rowY[i], "-", 4.6, "#888", "end");
    txt(568, rowY[i], "100.00%", 4.6, "#666", "end");
    txt(616, rowY[i], "-", 4.6, "#888", "end");
});
svg.append("rect").attr("x", 228).attr("y", 1087).attr("width", 390).attr("height", 8).attr("fill", "#fff").attr("stroke", "#888").attr("stroke-width", 0.6);
colX.slice(1, 6).forEach(function(x) {
    svg.append("line").attr("x1", x - 2).attr("x2", x - 2).attr("y1", 1087).attr("y2", 1095).attr("stroke", "#888").attr("stroke-width", 0.6);
});
txt(230, 1091, tableTotals[0], 4.8, "#444", "start", 700);
txt(505, 1091, tableTotals[3], 4.8, "#444", "end", 700);
txt(568, 1091, tableTotals[4], 4.8, "#444", "end", 700);
txt(616, 1091, tableTotals[5], 4.8, "#444", "end", 700);
svg.append("rect").attr("x", 631).attr("y", 993).attr("width", 4).attr("height", 92).attr("fill", "#eee");
svg.append("rect").attr("x", 631).attr("y", 1001).attr("width", 4).attr("height", 6).attr("fill", "#ccc");
txt(228, 1102, "* ข้อมูลธุรกิจที่ปรากฏตาม ณ ปีนี้ๆ ข้อมูลที่ใช้จะเกิดจากการเปิดเผยธุรกิจการจัดตั้ง", 4.8, "#666");
</script>
</body>
</html>
